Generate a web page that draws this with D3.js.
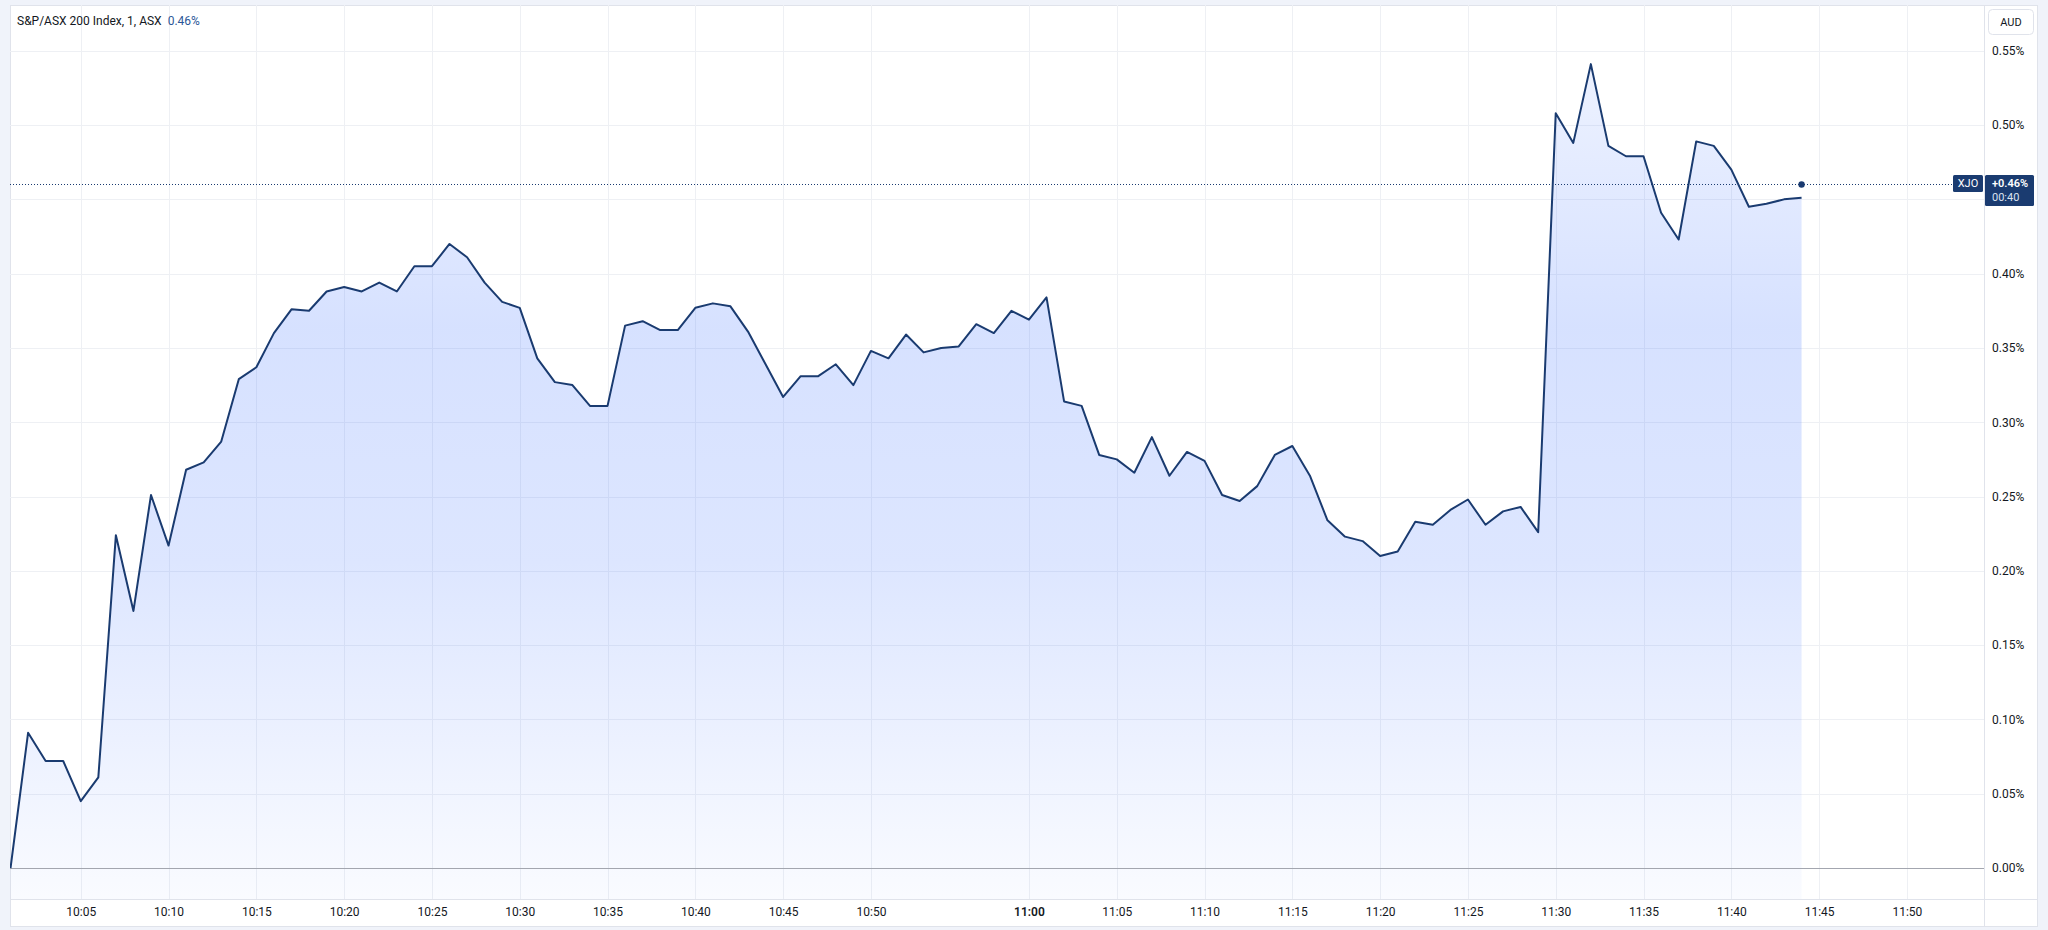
<!DOCTYPE html>
<html><head><meta charset="utf-8">
<script src="https://cdn.jsdelivr.net/npm/d3@7"></script>
<style>
html,body{margin:0;padding:0;background:#f0f3fa;overflow:hidden;}
svg{display:block;}
text{font-family:Roboto,"Noto Sans",sans-serif;}
</style></head><body>
<svg id="chart" width="2048" height="930"></svg>
<script>
// ---------- data ----------
const times = [
 "10:01","10:02","10:03","10:04","10:05","10:06","10:07","10:08","10:09","10:10",
 "10:11","10:12","10:13","10:14","10:15","10:16","10:17","10:18","10:19","10:20",
 "10:21","10:22","10:23","10:24","10:25","10:26","10:27","10:28","10:29","10:30",
 "10:31","10:32","10:33","10:34","10:35","10:36","10:37","10:38","10:39","10:40",
 "10:41","10:42","10:43","10:44","10:45","10:46","10:47","10:48","10:49","10:50",
 "10:51","10:52","10:53","10:54","10:56","10:57","10:58","10:59","11:00",
 "11:01","11:02","11:03","11:04","11:05","11:06","11:07","11:08","11:09","11:10",
 "11:11","11:12","11:13","11:14","11:15","11:16","11:17","11:18","11:19","11:20",
 "11:21","11:22","11:23","11:24","11:25","11:26","11:27","11:28","11:29","11:30",
 "11:31","11:32","11:33","11:34","11:35","11:36","11:37","11:38","11:39","11:40",
 "11:41","11:42","11:43","11:44"
];
const values = [
 0.000,0.091,0.072,0.072,0.045,0.061,0.224,0.173,0.251,0.217,
 0.268,0.273,0.287,0.329,0.337,0.360,0.376,0.375,0.388,0.391,
 0.388,0.394,0.388,0.405,0.405,0.420,0.411,0.394,0.381,0.377,
 0.343,0.327,0.325,0.311,0.311,0.365,0.368,0.362,0.362,0.377,
 0.380,0.378,0.361,0.339,0.317,0.331,0.331,0.339,0.325,0.348,
 0.343,0.359,0.347,0.350,0.351,0.366,0.360,0.375,0.369,
 0.384,0.314,0.311,0.278,0.275,0.266,0.290,0.264,0.280,0.274,
 0.251,0.247,0.257,0.278,0.284,0.264,0.234,0.223,0.220,0.210,
 0.213,0.233,0.231,0.241,0.248,0.231,0.240,0.243,0.226,0.508,
 0.488,0.541,0.486,0.479,0.479,0.441,0.423,0.489,0.486,0.470,
 0.445,0.447,0.450,0.451
];
const futureTimes = ["11:45","11:46","11:47","11:48","11:49","11:50","11:51","11:52"];
const yGridValues = [0,0.05,0.10,0.15,0.20,0.25,0.30,0.35,0.40,0.45,0.50,0.55];
const yLabelValues = [0,0.05,0.10,0.15,0.20,0.25,0.30,0.35,0.40,0.50,0.55];
const xTickLabels = ["10:05","10:10","10:15","10:20","10:25","10:30","10:35","10:40","10:45","10:50",
                     "11:00","11:05","11:10","11:15","11:20","11:25","11:30","11:35","11:40","11:45","11:50"];
const boldTickLabels = ["11:00"];
const symbolTitle = "S&P/ASX 200 Index, 1, ASX";
const legendValue = "0.46%";
const lastPrice = 0.46;
const lastPriceLabel = "+0.46%";
const countdown = "00:40";
const tickerLabel = "XJO";
const currencyLabel = "AUD";

// ---------- layout ----------
const frame = {left:10, top:5, right:2037, bottom:926};
const pane  = {left:10, top:5, right:1984, bottom:899};
const navy = "#1a3b70";
const slots = times.concat(futureTimes);

const x = d3.scaleLinear().domain([-0.03, 112.39]).range([pane.left, pane.right]);
const y = d3.scaleLinear().domain([-0.02086, 0.5808]).range([pane.bottom, pane.top]);

const svg = d3.select("#chart");
const defs = svg.append("defs");
defs.append("clipPath").attr("id","paneClip").append("rect")
  .attr("x",pane.left).attr("y",pane.top)
  .attr("width",pane.right-pane.left).attr("height",pane.bottom-pane.top);
const grad = defs.append("linearGradient").attr("id","areaGrad")
  .attr("gradientUnits","userSpaceOnUse")
  .attr("x1",0).attr("x2",0).attr("y1",pane.top).attr("y2",pane.bottom);
[[0,0.06],[0.36,0.19],[0.62,0.16],[1,0.025]].forEach(([o,a])=>{
  grad.append("stop").attr("offset",o).attr("stop-color","#2962ff").attr("stop-opacity",a);
});

// frame background
svg.append("rect").attr("x",frame.left+0.5).attr("y",frame.top+0.5)
  .attr("width",frame.right-frame.left).attr("height",frame.bottom-frame.top)
  .attr("fill","#ffffff").attr("stroke","#e0e3eb");

// grid
const tickIdx = xTickLabels.map(t => slots.indexOf(t)).filter(i => i >= 0);
const gridY = svg.append("g").attr("transform",`translate(${pane.left},0)`)
  .call(d3.axisRight(y).tickValues(yGridValues).tickSize(pane.right-pane.left).tickFormat(""));
gridY.select(".domain").remove();
gridY.selectAll("line").attr("stroke","#eef0f4").attr("shape-rendering","crispEdges");

const gridX = svg.append("g").attr("transform",`translate(0,${pane.top})`)
  .call(d3.axisBottom(x).tickValues(tickIdx).tickSize(pane.bottom-pane.top).tickFormat(""));
gridX.select(".domain").remove();
gridX.selectAll("line").attr("stroke","#eef0f4").attr("shape-rendering","crispEdges");

// area + line
const plot = svg.append("g").attr("clip-path","url(#paneClip)");
const series = values.map((v,i)=>({i, v}));
plot.append("path").datum(series)
  .attr("d", d3.area().x(d=>x(d.i)).y0(pane.bottom).y1(d=>y(d.v)))
  .attr("fill","url(#areaGrad)");

// zero baseline
plot.append("line").attr("x1",pane.left).attr("x2",pane.right)
  .attr("y1",Math.round(y(0))+0.5).attr("y2",Math.round(y(0))+0.5)
  .attr("stroke","#a3a6af").attr("stroke-width",1);

plot.append("path").datum(series)
  .attr("d", d3.line().x(d=>x(d.i)).y(d=>y(d.v)))
  .attr("fill","none").attr("stroke",navy).attr("stroke-width",2)
  .attr("stroke-linejoin","round");

// last price dotted line and dot
const py = Math.round(y(lastPrice))+0.5;
svg.append("line").attr("x1",pane.left).attr("x2",1953).attr("y1",py).attr("y2",py)
  .attr("stroke",navy).attr("stroke-width",1).attr("stroke-dasharray","1 2");
svg.append("circle").attr("cx",x(times.length-1)).attr("cy",y(lastPrice)).attr("r",3.2).attr("fill",navy);

// separators
svg.append("line").attr("x1",pane.right+0.5).attr("x2",pane.right+0.5)
  .attr("y1",frame.top).attr("y2",frame.bottom).attr("stroke","#e0e3eb");
svg.append("line").attr("x1",frame.left).attr("x2",frame.right)
  .attr("y1",pane.bottom+0.5).attr("y2",pane.bottom+0.5).attr("stroke","#e0e3eb");

// y axis labels
const yAx = svg.append("g").attr("transform",`translate(${pane.right},0)`)
  .call(d3.axisRight(y).tickValues(yLabelValues).tickSize(0).tickPadding(8)
        .tickFormat(d => d.toFixed(2)+"%"));
yAx.select(".domain").remove();
yAx.selectAll("text").attr("font-size",12).attr("fill","#131722")
  .attr("font-family","Roboto, sans-serif");

// x axis labels
const xAx = svg.append("g").attr("transform",`translate(0,${pane.bottom})`)
  .call(d3.axisBottom(x).tickValues(tickIdx).tickSize(0).tickPadding(8)
        .tickFormat(i => slots[i]));
xAx.select(".domain").remove();
xAx.selectAll("text").attr("font-size",12).attr("fill","#131722")
  .attr("font-family","Roboto, sans-serif")
  .attr("font-weight", i => boldTickLabels.includes(slots[i]) ? 600 : 400);

// title legend
const title = svg.append("text").attr("x",17).attr("y",25).attr("font-size",12).attr("fill","#131722");
title.append("tspan").text(symbolTitle);
title.append("tspan").attr("dx",6).attr("fill","#2b5797").text(legendValue);

// currency box
svg.append("rect").attr("x",1988.5).attr("y",9.5).attr("width",45).attr("height",25).attr("rx",4)
  .attr("fill","#ffffff").attr("stroke","#e0e3eb");
svg.append("text").attr("x",2011).attr("y",22).attr("dy","0.35em").attr("text-anchor","middle")
  .attr("font-size",11).attr("fill","#131722").text(currencyLabel);

// ticker label + price label
svg.append("rect").attr("x",1953).attr("y",py-9.5).attr("width",30).attr("height",17).attr("rx",1.5).attr("fill",navy);
svg.append("text").attr("x",1968).attr("y",py-1).attr("dy","0.35em").attr("text-anchor","middle")
  .attr("font-size",11).attr("fill","#ffffff").text(tickerLabel);
svg.append("rect").attr("x",1985).attr("y",py-9.5).attr("width",49).attr("height",31).attr("rx",1.5).attr("fill",navy);
svg.append("text").attr("x",1992).attr("y",py-1).attr("dy","0.35em")
  .attr("font-size",11).attr("font-weight",600).attr("fill","#ffffff").text(lastPriceLabel);
svg.append("text").attr("x",1992).attr("y",py+13).attr("dy","0.35em")
  .attr("font-size",11).attr("fill","#dce3f0").text(countdown);
</script>
</body></html>
